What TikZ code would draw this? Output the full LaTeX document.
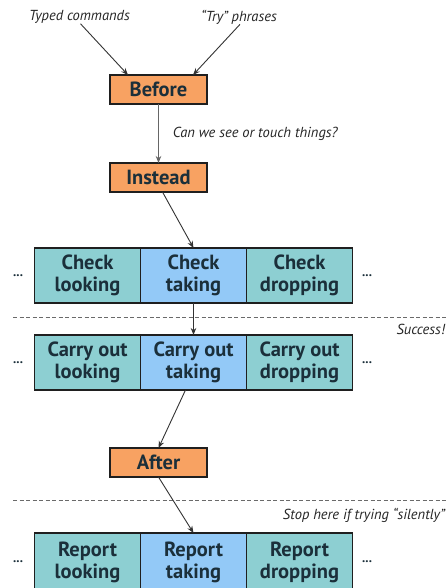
\documentclass[tikz,border=0pt]{standalone}
\usepackage{fontspec}
\setmainfont{PT Sans}
\usetikzlibrary{arrows.meta,calc}
\definecolor{orangebox}{HTML}{F8A262}
\definecolor{tealbox}{HTML}{8DCFD2}
\definecolor{bluebox}{HTML}{93C9F7}
\definecolor{boxtext}{HTML}{1B2F3A}
\definecolor{arrowcol}{HTML}{333333}
\definecolor{dashcol}{HTML}{6A6A6A}
\begin{document}
\begin{tikzpicture}[x=1pt,y=-1pt,
  boxbase/.style={draw=black!88, line width=1.6pt, inner sep=0pt, outer sep=0pt,
    text=boxtext, font=\fontsize{20.5}{22}\selectfont\bfseries, align=center},
  phasebox/.style={boxbase, fill=orangebox, minimum width=97pt, minimum height=29pt},
  cellbox/.style={boxbase, fill=tealbox, minimum width=106pt, minimum height=55pt},
  cellhi/.style={cellbox, fill=bluebox},
  lbl/.style={font=\fontsize{14.5}{16}\selectfont\itshape, text=black!85, inner sep=0pt},
  dots/.style={font=\fontsize{13}{14}\selectfont\bfseries, text=boxtext, inner sep=0pt},
  arr/.style={draw=arrowcol, line width=0.9pt, -{Stealth[length=7pt,width=5.5pt]}},
  sep/.style={draw=dashcol, line width=0.8pt, dash pattern=on 4pt off 2.5pt}
]
\clip (0,0) rectangle (446,588);
\fill[white] (0,0) rectangle (446,588);

% top labels
\node[lbl] (typed) at (79.5,17) {Typed commands};
\node[lbl] (try) at (239,17) {“Try” phrases};

% phase boxes
\node[phasebox] (before) at (158.5,89.5) {Before};
\node[phasebox] (instead) at (158.5,177.5) {Instead};
\node[phasebox] (after) at (158.5,462.5) {After};

% check row
\node[cellbox] (chklook) at (87.5,275.5) {Check\\looking};
\node[cellhi]  (chktake) at (193.5,275.5) {Check\\taking};
\node[cellbox] (chkdrop) at (299.5,275.5) {Check\\dropping};
\node[dots] (dl1) at (18,276) {...};
\node[dots] (dr1) at (367,276) {...};

% carry out row
\node[cellbox] (carlook) at (87.5,362.5) {Carry out\\looking};
\node[cellhi]  (cartake) at (193.5,362.5) {Carry out\\taking};
\node[cellbox] (cardrop) at (299.5,362.5) {Carry out\\dropping};
\node[dots] (dl2) at (18,363) {...};
\node[dots] (dr2) at (367,363) {...};

% report row (cut off at bottom)
\node[cellbox, minimum height=58pt] (replook) at (87.5,562) {Report\\looking};
\node[cellhi, minimum height=58pt]  (reptake) at (193.5,562) {Report\\taking};
\node[cellbox, minimum height=58pt] (repdrop) at (299.5,562) {Report\\dropping};
\node[dots] (dl3) at (18,562) {...};
\node[dots] (dr3) at (367,562) {...};

% dashed separators
\coordinate (s1a) at (13,317);
\coordinate (s1b) at (446,317);
\coordinate (s2a) at (13,500);
\coordinate (s2b) at (446,500);
\draw[sep] (s1a) -- (s1b);
\draw[sep] (s2a) -- (s2b);
\node[lbl, anchor=east] (success) at (445,329) {Success!};
\node[lbl, anchor=east] (stop) at (445,515) {Stop here if trying “silently”};

% connectors
\draw[arr] ([xshift=1pt]typed.south) -- ([xshift=-30.5pt]before.north);
\draw[arr] ([xshift=1pt]try.south) -- ([xshift=34.5pt]before.north);
\draw[arr, draw=black!60] (before.south) -- (instead.north)
  node[lbl, midway, right=14pt, anchor=west] (canwe) {Can we see or touch things?};
\draw[arr] ([xshift=4pt]instead.south) -- (chktake.north);
\draw[arr] (chktake.south) -- (cartake.north);
\draw[arr] ([xshift=-8pt]cartake.south) -- (after.north);
\draw[arr] (after.south) -- (reptake.north);
\end{tikzpicture}
\end{document}
